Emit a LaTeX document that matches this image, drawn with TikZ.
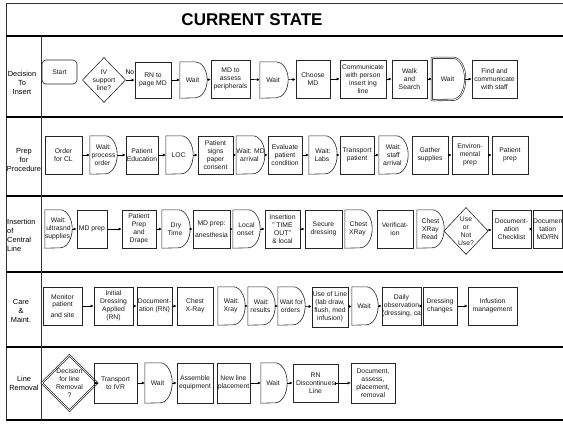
\documentclass[tikz,border=0pt]{standalone}
\usepackage{fontspec}
\setmainfont{Liberation Sans}
\usetikzlibrary{shapes.geometric,arrows.meta}
\newcommand\boxfont{\fontsize{6.8}{7.9}\selectfont}
\newcommand\lanefont{\fontsize{7.4}{9}\selectfont}
\tikzset{
  shapeline/.style={draw=black!85, line width=0.6pt},
  box/.style={shapeline, inner sep=0pt, align=center, font=\boxfont, text=black!90},
  dtext/.style={inner sep=0pt, align=center, font=\boxfont, text=black!90},
  dia/.style={diamond, shapeline, inner sep=0pt, align=center, font=\boxfont, text=black!90},
  startbox/.style={box, rounded corners=4pt},
  arr/.style={draw=black, line width=0.6pt, -{Latex[length=3pt,width=3pt]}},
  lane/.style={draw=black, line width=1.2pt},
  border/.style={draw=black!80, line width=0.9pt},
  lanelabel/.style={align=center, font=\lanefont, inner sep=0pt},
}
\newcommand\bx[7][]{\node[box,#1,minimum width={#4-#3},minimum height={#6-#5}] (#2) at ({(#3+#4)/2},{(#5+#6)/2}) {#7};}
\newcommand\dl[7][]{\node[dtext,minimum width={#4-#3},minimum height={#6-#5}] (#2) at ({(#3+#4)/2},{(#5+#6)/2}) {#7\hspace*{2pt}};
  \draw[shapeline,#1] (#2.south west) -- (#2.north west) -- ([xshift=-12pt]#2.north east) arc[start angle=90,end angle=-90,x radius=12pt,y radius={(#6-#5)/2*1pt}] -- cycle;}
\begin{document}
\begin{tikzpicture}[x=1pt,y=-1pt]
\useasboundingbox (0,0) rectangle (563,424);
% frame and lanes
\draw[border] (563,3) -- (6,3) -- (6,420);
\draw[lane] (6,36) -- (563,36);
\draw[lane] (6,117) -- (563,117);
\draw[lane] (6,196) -- (563,196);
\draw[lane] (6,272) -- (563,272);
\draw[lane] (6,347) -- (563,347);
\draw[lane] (6,420) -- (563,420);
\draw[border] (41,36) -- (41,420);
\node[font=\fontsize{17}{20}\selectfont\bfseries] (title) at (252,20) {CURRENT STATE};
% lane labels
\node[lanelabel] (l1) at (22,83) {Decision\\To\\Insert};
\node[lanelabel] (l2) at (24,160) {Prep\\for\\Procedure};
\node[lanelabel, align=left, anchor=west] (l3) at (7,235) {Insertion\\of\\Central\\Line};
\node[lanelabel] (l4) at (21,311) {Care\\\&\\Maint.};
\node[lanelabel] (l5) at (24,383) {Line\\Removal};
% lane 1
\node[startbox, minimum width=35, minimum height=24] (start) at (59.5,72) {Start};
\node[dia, minimum width=36, minimum height=45] (d1) at (104,80) {IV\\support\\line?};
\bx{rn}{135}{171}{62}{98}{RN to\\page MD}
\dl{w1}{180}{207}{62}{98}{Wait}
\bx{mda}{211}{250}{60}{98}{MD to\\assess\\peripherals}
\dl{w2}{260}{288}{62}{98}{Wait}
\bx{cmd}{296}{330}{60}{98}{Choose\\MD}
\bx{comm}{340}{386}{60}{98}{Communicate\\with person\\insert ing\\line}
\bx{walk}{392}{427}{60}{98}{Walk\\and\\Search}
\dl[double, double distance=0.8pt]{w3}{432}{465}{58}{100}{Wait}
\bx{find}{472}{517}{60}{98}{Find and\\communicate\\with staff}
\draw[arr] (d1) -- node[above, font=\boxfont, pos=0.45, yshift=2pt] {No} (rn);
\draw[arr] (rn) -- (w1);
\draw[arr] (w1) -- (mda);
\draw[arr] (mda) -- (w2);
\draw[arr] (w2) -- (cmd);
\draw[arr] (cmd) -- (comm);
\draw[arr] (comm) -- (walk);
\draw[arr] (walk) -- (w3);
\draw[arr] (w3) -- (find);
% lane 2
\bx{order}{45}{82}{136}{174}{Order\\for CL}
\dl{w4}{90}{117}{136}{174}{Wait:\\process\\order}
\bx{pe}{126}{158}{136}{174}{Patient\\Education}
\dl{loc}{166}{193}{136}{174}{LOC}
\bx{ps}{198}{233}{136}{174}{Patient\\signs\\paper\\consent}
\dl{w5}{237}{264}{136}{174}{Wait: MD\\arrival}
\bx{eval}{268}{302}{136}{174}{Evaluate\\patient\\condition}
\dl{w6}{309}{337}{136}{174}{Wait:\\Labs}
\bx{tp}{340}{374}{136}{174}{Transport\\patient}
\dl{w7}{379}{408}{136}{174}{Wait:\\staff\\arrival}
\bx{gs}{412}{448}{136}{174}{Gather\\supplies}
\bx{env}{452}{488}{136}{174}{Environ-\\mental\\prep}
\bx{pp}{492}{528}{136}{174}{Patient\\prep}
\draw[arr] (order) -- (w4);
\draw[arr] (w4) -- (pe);
\draw[arr] (pe) -- (loc);
\draw[arr] (loc) -- (ps);
\draw[arr] (ps) -- (w5);
\draw[arr] (w5) -- (eval);
\draw[arr] (eval) -- (w6);
\draw[arr] (w6) -- (tp);
\draw[arr] (tp) -- (w7);
\draw[arr] (gs) -- (env);
\draw[arr] (env) -- (pp);
% lane 3
\dl{w8}{45}{72}{210}{248}{Wait:\\ultrasnd\\supplies}
\bx{mdp}{77}{107}{210}{248}{MD prep}
\bx{ppd}{122}{156}{210}{248}{Patient\\Prep\\and\\Drape}
\dl{dry}{162}{190}{210}{248}{Dry\\Time}
\bx{mdan}{193}{230}{210}{248}{MD prep:\\[4pt]anesthesia}
\dl{lo}{233}{260}{210}{248}{Local\\onset}
\bx{ins}{265}{300}{210}{248}{Insertion\\" TIME\\OUT"\\\& local}
\bx{sd}{305}{342}{210}{248}{Secure\\dressing}
\dl{cx}{345}{372}{210}{248}{Chest\\XRay}
\bx{ver}{377}{413}{210}{248}{Verificat-\\ion}
\dl{cxr}{417}{444}{210}{248}{Chest\\XRay\\Read}
\node[dia, minimum width=36, minimum height=47] (d2) at (466,231) {Use\\or\\Not\\Use?};
\bx{dc}{492}{531}{210}{248}{Document-\\ation\\Checklist}
\bx{dmd}{533}{562.5}{210}{248}{Documen\\tation\\MD/RN}
\draw[arr] (w8) -- (mdp);
\draw[arr] (mdp) -- (ppd);
\draw[arr] (ppd) -- (dry);
\draw[arr] (dry) -- (mdan);
\draw[arr] (mdan) -- (lo);
\draw[arr] (lo) -- (ins);
\draw[arr] (ins) -- (sd);
\draw[arr] (d2) -- (dc);
\draw[arr] (dc) -- (dmd);
% lane 4
\bx{mon}{43}{82}{287}{325}{Monitor\\patient\\[3pt]and site}
\bx{idr}{94}{133}{287}{325}{Initial\\Dressing\\Applied\\(RN)}
\bx{doc}{137}{172}{287}{325}{Document-\\ation (RN)}
\bx{chx}{177}{213}{287}{325}{Chest\\X-Ray}
\dl{w9}{218}{245}{287}{325}{Wait:\\Xray}
\dl{w10}{248}{275}{287}{325}{Wait:\\results}
\dl{w11}{278}{305}{287}{325}{Wait for\\orders}
\bx{use}{312}{348}{287}{327}{Use of Line\\(lab draw,\\flush, med\\infusion)}
\dl{w12}{352}{378}{287}{325}{Wait}
\bx{daily}{383}{420}{287}{325}{Daily\\observation\\(dressing, ca}
\bx{dch}{423}{457}{287}{325}{Dressing\\changes}
\bx{inf}{468}{517}{287}{325}{Infustion\\management}
\draw[arr] (mon) -- (idr);
\draw[arr] (idr) -- (doc);
\draw[arr] (doc) -- (chx);
\draw[arr] (w9) -- (w10);
\draw[arr] (w10) -- (w11);
\draw[arr] (w11) -- (use);
\draw[arr] (use) -- (w12);
\draw[arr] (w12) -- (daily);
\draw[arr] (daily) -- (dch);
\draw[arr] (dch) -- (inf);
% lane 5
\node[dia, double, double distance=0.8pt, minimum width=45, minimum height=53] (d3) at (69.5,383) {Decision\\for line\\Removal\\?};
\bx{tivr}{94}{137}{363}{403}{Transport\\to IVR}
\dl{w13}{145}{172}{363}{403}{Wait}
\bx{ae}{177}{213}{363}{403}{Assemble\\equipment}
\bx{nlp}{217}{250}{363}{403}{New line\\placement}
\dl{w14}{261}{287}{363}{403}{Wait}
\bx{rnd}{293}{338}{364}{402}{RN\\Discontinues\\Line}
\bx[line width=0.9pt]{dar}{351}{395}{363}{403}{Document,\\assess,\\placement,\\removal}
\draw[arr] (d3) -- (tivr);
\draw[arr] (tivr) -- (w13);
\draw[arr] (w13) -- (ae);
\draw[arr] (nlp) -- (w14);
\draw[arr] (w14) -- (rnd);
\draw[line width=0.6pt, {Bar[width=3pt]}-{Triangle[open,length=3pt,width=3pt]}] ([xshift=-3pt]rnd.east) -- (dar.west);
\end{tikzpicture}
\end{document}
